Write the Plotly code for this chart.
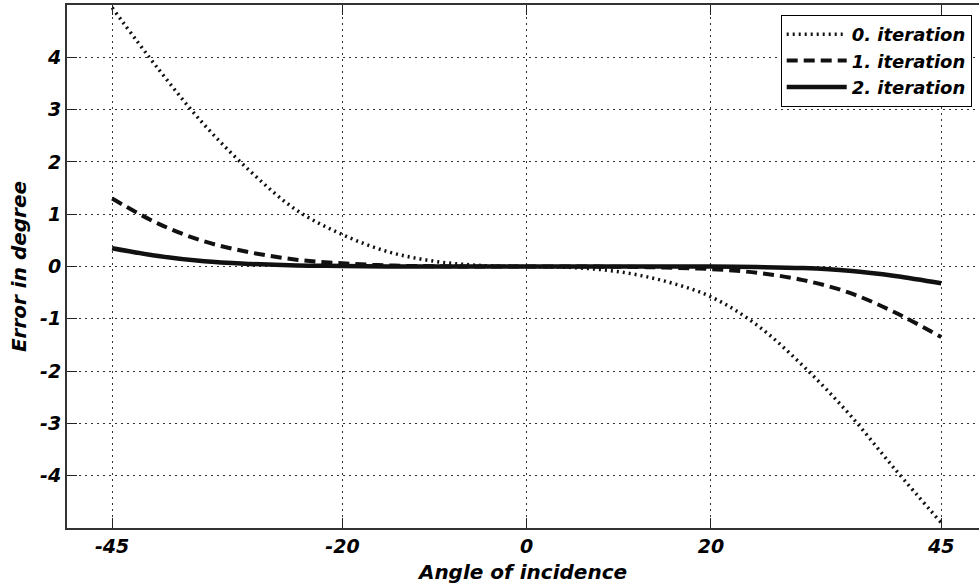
import plotly.graph_objects as go

angles = [-45, -40, -35, -30, -25, -20, -15, -10, -5, 0, 5, 10, 15, 20, 25, 30, 35, 40, 45]
iter0 = [4.95, 3.78, 2.71, 1.82, 1.08, 0.61, 0.28, 0.10, 0.02, 0.0,
         -0.02, -0.10, -0.28, -0.58, -1.12, -1.90, -2.82, -3.88, -4.90]
iter1 = [1.30, 0.82, 0.48, 0.27, 0.13, 0.06, 0.02, 0.005, 0.0, 0.0,
         0.0, -0.005, -0.02, -0.05, -0.12, -0.26, -0.50, -0.88, -1.35]
iter2 = [0.35, 0.20, 0.10, 0.05, 0.02, 0.01, 0.0, 0.0, 0.0, 0.0,
         0.0, 0.0, 0.0, 0.0, -0.01, -0.03, -0.08, -0.18, -0.32]
names = ["0. iteration", "1. iteration", "2. iteration"]
x_ticks = [-45, -20, 0, 20, 45]
x_labels = ["-45", "-20", "0", "20", "45"]
y_ticks = [-4, -3, -2, -1, 0, 1, 2, 3, 4]
y_labels = ["-4", "-3", "-2", "-1", "0", "1", "2", "3", "4"]

FONT = "DejaVu Sans, Liberation Sans, Arial, sans-serif"
INK = "#111111"

fig = go.Figure()
styles = [dict(width=3.5, dash="2px,4px"),
          dict(width=4, dash="11px,6px"),
          dict(width=4.5, dash="solid")]
for ys, nm, st in zip([iter0, iter1, iter2], names, styles):
    fig.add_trace(go.Scatter(x=angles, y=ys, name=nm, mode="lines",
                             line=dict(color=INK, shape="spline", **st)))

axis_common = dict(
    showline=True, linecolor="#333333", linewidth=2,
    ticks="inside", ticklen=10, tickwidth=1, tickcolor="#222222",
    showgrid=True, gridcolor="#333333", gridwidth=1, griddash="2px,4px",
    zeroline=False,
    tickfont=dict(family=FONT, size=19, color="black", weight="bold", style="italic"),
)
title_font = dict(family=FONT, size=20, color="black", weight="bold", style="italic")

fig.update_xaxes(range=[-49.9, 49.1], tickvals=x_ticks, ticktext=x_labels,
                 mirror="ticks",
                 title=dict(text="Angle of incidence", standoff=9, font=title_font),
                 **axis_common)
fig.update_yaxes(range=[-5, 5], tickvals=y_ticks, ticktext=y_labels, mirror=False,
                 title=dict(text="Error in degree", standoff=8, font=title_font),
                 **axis_common)

fig.update_layout(
    width=979, height=588,
    margin=dict(l=67, r=0, t=5, b=60),
    plot_bgcolor="white", paper_bgcolor="white",
    legend=dict(x=0.992, y=0.981, xanchor="right", yanchor="top",
                bgcolor="white", bordercolor="black", borderwidth=1,
                itemwidth=60,
                font=dict(family=FONT, size=18, color="black",
                          weight="bold", style="italic")),
    showlegend=True,
)

fig.write_html("out.html")
